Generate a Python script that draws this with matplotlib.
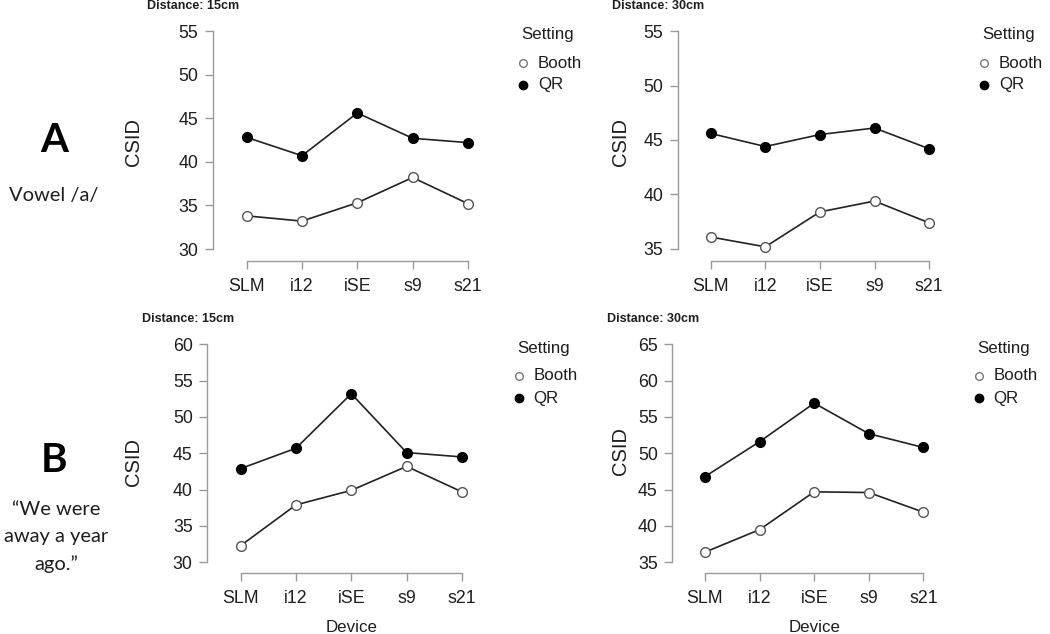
import matplotlib
matplotlib.use("Agg")
from matplotlib import pyplot as plt

plt.rcParams['font.family'] = ['Liberation Sans', 'DejaVu Sans']

W, H = 1050, 634

devices = ["SLM", "i12", "iSE", "s9", "s21"]
settings = ["Booth", "QR"]

# CSID values
vowel_15_booth = [33.8, 33.2, 35.3, 38.2, 35.2]
vowel_15_qr = [42.8, 40.7, 45.6, 42.7, 42.2]
vowel_30_booth = [36.1, 35.2, 38.4, 39.4, 37.4]
vowel_30_qr = [45.6, 44.4, 45.5, 46.1, 44.2]
sent_15_booth = [32.3, 37.9, 39.9, 43.2, 39.7]
sent_15_qr = [42.9, 45.7, 53.2, 45.1, 44.5]
sent_30_booth = [36.4, 39.5, 44.7, 44.6, 41.9]
sent_30_qr = [46.8, 51.6, 56.9, 52.7, 50.8]

vowel_ticks_15 = [30, 35, 40, 45, 50, 55]
vowel_ticks_30 = [35, 40, 45, 50, 55]
sent_ticks_15 = [30, 35, 40, 45, 50, 55, 60]
sent_ticks_30 = [35, 40, 45, 50, 55, 60, 65]

AXIS_GRAY = "#9a9a9a"
TEXT = "#1e1e1e"


def px_rect(left, right, top, bottom):
    return [left / W, 1 - bottom / H, (right - left) / W, (bottom - top) / H]


def panel(fig, booth, qr, yticks, xa, x0, dx, ya, ytop, ybot):
    """xa: y-axis line x, x0: first tick x, dx: tick spacing,
    ya: x-axis line y, ytop/ybot: pixel rows of the top/bottom y tick"""
    right = x0 + 4 * dx + 34
    top = ytop - 12
    ax = fig.add_axes(px_rect(xa, right, top, ya))
    vmin, vmax = yticks[0], yticks[-1]
    upp = (vmax - vmin) / (ybot - ytop)
    ax.set_ylim(vmin - (ya - ybot) * upp, vmax + (ytop - top) * upp)
    ax.set_xlim((xa - x0) / dx, (right - x0) / dx)

    xs = range(len(devices))
    ax.plot(xs, qr, color="#222222", lw=1.2, marker="o", ms=7,
            mfc="black", mec="black", zorder=3)
    ax.plot(xs, booth, color="#222222", lw=1.2, marker="o", ms=7,
            mfc="white", mec="#555555", mew=1.0, zorder=3)

    for s in ["top", "right"]:
        ax.spines[s].set_visible(False)
    for s in ["left", "bottom"]:
        ax.spines[s].set_color(AXIS_GRAY)
        ax.spines[s].set_linewidth(1.0)
    ax.spines["left"].set_bounds(vmin, vmax)
    ax.spines["bottom"].set_bounds(0, len(devices) - 1)
    ax.set_yticks(yticks)
    ax.set_xticks(list(xs))
    ax.set_xticklabels(devices)
    ax.tick_params(axis="both", colors=AXIS_GRAY, labelcolor=TEXT,
                   labelsize=12.8, length=5.5, width=1.0)
    ax.tick_params(axis="x", pad=6.5)
    ax.tick_params(axis="y", pad=5.0)
    ax.patch.set_alpha(0)
    return ax


fig = plt.figure(figsize=(W / 100, H / 100), dpi=100)

panels = [
    (vowel_15_booth, vowel_15_qr, vowel_ticks_15, 212.7, 246.7, 55.3, 261, 31, 249),
    (vowel_30_booth, vowel_30_qr, vowel_ticks_30, 677.7, 710.7, 54.6, 261, 31, 249),
    (sent_15_booth, sent_15_qr, sent_ticks_15, 207.3, 240.7, 55.3, 573.3, 344.3, 562.3),
    (sent_30_booth, sent_30_qr, sent_ticks_30, 672.3, 705, 54.6, 573.3, 344.3, 562.3),
]
for p in panels:
    panel(fig, *p)

# overlay in pixel coordinates for the text and legends
ov = fig.add_axes([0, 0, 1, 1])
ov.set_xlim(0, W)
ov.set_ylim(H, 0)
ov.axis("off")

titles = [(147, 6, "Distance: 15cm"), (612, 6, "Distance: 30cm"),
          (142, 319.5, "Distance: 15cm"), (607, 319.5, "Distance: 30cm")]
for x, y, t in titles:
    ov.text(x, y, t, fontsize=9, fontweight="bold", color=TEXT, ha="left", va="center")

for x, y in [(134, 142.5), (620.5, 142.5), (134, 461.5), (620.5, 451)]:
    ov.text(x, y, "CSID", fontsize=14.5, rotation=90, color=TEXT, ha="center", va="center")

for x in [351.5, 814.3]:
    ov.text(x, 627, "Device", fontsize=12.2, color=TEXT, ha="center", va="center")

legends = [(523, 35, 538), (984, 35, 999), (519, 348, 533.5), (979, 348, 993.3)]
for mx, ty, tx in legends:
    ov.text(mx - 2, ty, "Setting", fontsize=12.2, color=TEXT, ha="left", va="center")
    for i, s in enumerate(settings):
        yy = ty + 28 + 22 * i
        if s == "Booth":
            ov.plot(mx, yy, marker="o", ms=5.5, mfc="white", mec="#777777", mew=1.0)
        else:
            ov.plot(mx, yy, marker="o", ms=6, mfc="black", mec="black")
        ov.text(tx, yy, s, fontsize=12.2, color=TEXT, ha="left", va="center")

ov.text(54, 141, "A", fontsize=29, fontweight="bold", family=["Lato", "DejaVu Sans"],
        color="black", ha="center", va="center")
ov.text(54, 195, "Vowel /a/", fontsize=14.5, family=["Lato", "DejaVu Sans"],
        color=TEXT, ha="center", va="center")
ov.text(54, 460, "B", fontsize=29, fontweight="bold", family=["Lato", "DejaVu Sans"],
        color="black", ha="center", va="center")
ov.text(56, 537, "\u201cWe were\naway a year\nago.\u201d", fontsize=14.5,
        family=["Lato", "DejaVu Sans"], color=TEXT, ha="center", va="center",
        multialignment="center", linespacing=1.68)

fig.savefig("out.png", dpi=100)
